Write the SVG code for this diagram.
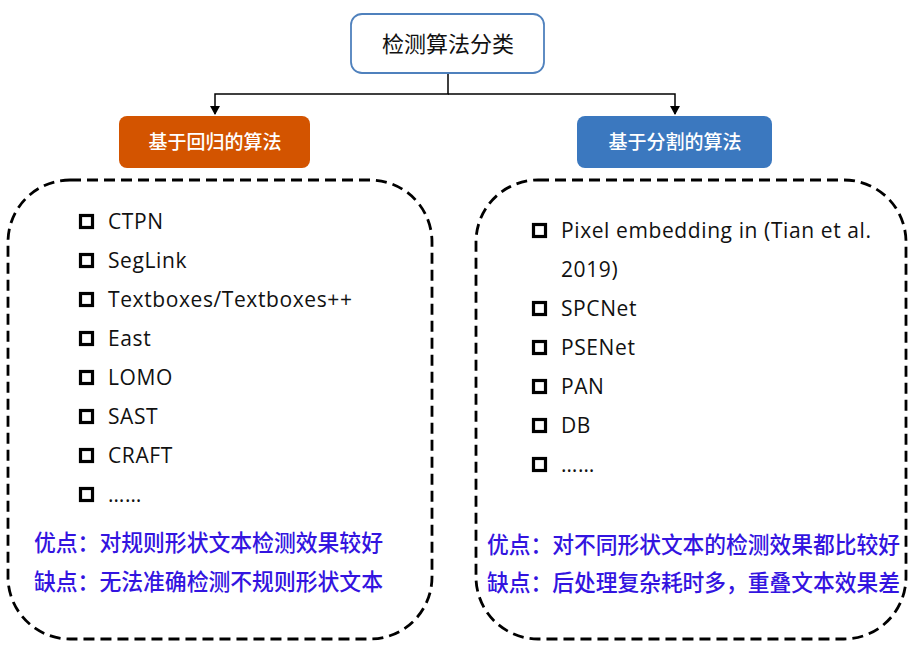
<svg xmlns="http://www.w3.org/2000/svg" width="922" height="654" viewBox="0 0 922 654">
<style>
.cjk{font-family:"Noto Sans CJK SC","Noto Sans",sans-serif}
.lat{font-family:"Open Sans","Noto Sans CJK SC",sans-serif;font-size:21px;letter-spacing:0.6px;fill:#111}
.blue{font-family:"Noto Sans CJK SC",sans-serif;font-size:22.5px;font-weight:500;fill:#3314e0}
.cb{fill:none;stroke:#000;stroke-width:3.2}
.dash{fill:none;stroke:#000;stroke-width:2.8;stroke-dasharray:11 6}
.conn{fill:none;stroke:#000;stroke-width:1.5}
</style>
<defs>
<marker id="arr" markerWidth="10" markerHeight="10" refX="8" refY="5" orient="auto" markerUnits="userSpaceOnUse">
<path d="M0,0 L9,5 L0,10 Z" fill="#000"/>
</marker>
</defs>
<g id="connectors">
<path class="conn" d="M448,73 V94 H215 V114" marker-end="url(#arr)"/>
<path class="conn" d="M448,94 H675 V114" marker-end="url(#arr)"/>
</g>
<g id="root">
<rect x="351" y="14" width="193" height="59" rx="11" fill="#fff" stroke="#4f81bd" stroke-width="1.8"/>
<text class="cjk" x="448" y="52" font-size="22" text-anchor="middle" fill="#111">检测算法分类</text>
</g>
<g id="regression">
<rect x="119" y="116" width="191" height="52" rx="8" fill="#d35400"/>
<text class="cjk" x="215" y="149" font-size="19" font-weight="500" text-anchor="middle" fill="#fff">基于回归的算法</text>
</g>
<g id="segmentation">
<rect x="577" y="116" width="195" height="52" rx="8" fill="#3b78bf"/>
<text class="cjk" x="675" y="149" font-size="19" font-weight="500" text-anchor="middle" fill="#fff">基于分割的算法</text>
</g>
<g id="regression-list">
<rect class="dash" x="8" y="180" width="424" height="459" rx="62"/>
<rect class="cb" x="80.5" y="215.5" width="12" height="12"/>
<text class="lat" x="108" y="229">CTPN</text>
<rect class="cb" x="80.5" y="254.5" width="12" height="12"/>
<text class="lat" x="108" y="268">SegLink</text>
<rect class="cb" x="80.5" y="293.5" width="12" height="12"/>
<text class="lat" x="108" y="307">Textboxes/Textboxes++</text>
<rect class="cb" x="80.5" y="332.5" width="12" height="12"/>
<text class="lat" x="108" y="346">East</text>
<rect class="cb" x="80.5" y="371.5" width="12" height="12"/>
<text class="lat" x="108" y="385">LOMO</text>
<rect class="cb" x="80.5" y="410.5" width="12" height="12"/>
<text class="lat" x="108" y="424">SAST</text>
<rect class="cb" x="80.5" y="449.5" width="12" height="12"/>
<text class="lat" x="108" y="463">CRAFT</text>
<rect class="cb" x="80.5" y="488.5" width="12" height="12"/>
<text class="lat" x="108" y="502">……</text>
<text class="blue" x="34" y="551" textLength="349" lengthAdjust="spacingAndGlyphs">优点：对规则形状文本检测效果较好</text>
<text class="blue" x="34" y="590" textLength="349" lengthAdjust="spacingAndGlyphs">缺点：无法准确检测不规则形状文本</text>
</g>
<g id="segmentation-list">
<rect class="dash" x="476" y="180" width="430" height="459" rx="62"/>
<rect class="cb" x="533.5" y="224.5" width="12" height="12"/>
<text class="lat" x="561" y="238">Pixel embedding in (Tian et al.</text>
<text class="lat" x="561" y="277">2019)</text>
<rect class="cb" x="533.5" y="302.5" width="12" height="12"/>
<text class="lat" x="561" y="316">SPCNet</text>
<rect class="cb" x="533.5" y="341.5" width="12" height="12"/>
<text class="lat" x="561" y="355">PSENet</text>
<rect class="cb" x="533.5" y="380.5" width="12" height="12"/>
<text class="lat" x="561" y="394">PAN</text>
<rect class="cb" x="533.5" y="419.5" width="12" height="12"/>
<text class="lat" x="561" y="433">DB</text>
<rect class="cb" x="533.5" y="458.5" width="12" height="12"/>
<text class="lat" x="561" y="472">……</text>
<text class="blue" x="487" y="553" textLength="413" lengthAdjust="spacingAndGlyphs">优点：对不同形状文本的检测效果都比较好</text>
<text class="blue" x="487" y="591" textLength="413" lengthAdjust="spacingAndGlyphs">缺点：后处理复杂耗时多，重叠文本效果差</text>
</g>
</svg>
